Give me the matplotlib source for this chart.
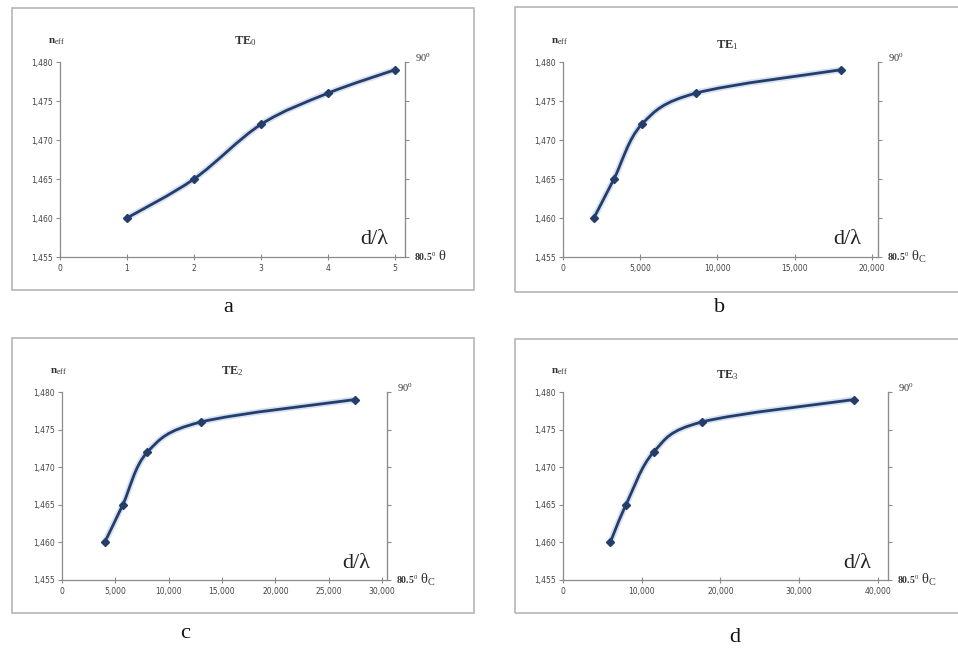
import numpy as np
import matplotlib
matplotlib.use("Agg")
import matplotlib.pyplot as plt
from matplotlib.path import Path
from matplotlib.patches import PathPatch, Rectangle
from matplotlib.ticker import FuncFormatter

# n_eff values, same for all four modes
N_EFF = [1.460, 1.465, 1.472, 1.476, 1.479]

# d/lambda for each mode
X_TE0 = [1, 2, 3, 4, 5]
X_TE1 = [2000, 3300, 5100, 8600, 18000]
X_TE2 = [4000, 5700, 8000, 13000, 27500]
X_TE3 = [6000, 8000, 11500, 17600, 37000]

TITLES = ["0", "1", "2", "3"]
LETTERS = ["a", "b", "c", "d"]
THETA = ["θ", "θ$_{\\rm C}$", "θ$_{\\rm C}$", "θ$_{\\rm C}$"]

W, H = 958, 651
LINE = "#243d6b"
GRID = "#8c8c8c"
SERIF = "Liberation Serif"

plt.rcParams["mathtext.fontset"] = "custom"
plt.rcParams["mathtext.rm"] = SERIF
plt.rcParams["mathtext.it"] = SERIF + ":italic"
plt.rcParams["mathtext.bf"] = SERIF + ":bold"


def px(x0, y0, x1, y1):
    # pixel box (top-left origin) -> figure fraction rect
    return [x0 / W, (H - y1) / H, (x1 - x0) / W, (y1 - y0) / H]


def smooth_path(ax, xs, ys):
    # Excel-like smoothed line: Catmull-Rom turned into cubic Beziers,
    # computed in normalised axis units so the curve shape is right
    x0, x1 = ax.get_xlim()
    y0, y1 = ax.get_ylim()
    pts = np.column_stack([(np.array(xs) - x0) / (x1 - x0),
                           (np.array(ys) - y0) / (y1 - y0)])
    ext = np.vstack([pts[0], pts, pts[-1]])
    verts = [pts[0]]
    codes = [Path.MOVETO]
    for i in range(1, len(ext) - 2):
        p0, p1, p2, p3 = ext[i - 1], ext[i], ext[i + 1], ext[i + 2]
        c1 = p1 + (p2 - p0) / 6
        c2 = p2 - (p3 - p1) / 6
        verts += [c1, c2, p2]
        codes += [Path.CURVE4] * 3
    verts = np.array(verts)
    verts[:, 0] = verts[:, 0] * (x1 - x0) + x0
    verts[:, 1] = verts[:, 1] * (y1 - y0) + y0
    return Path(verts, codes)


def comma_fmt(dec):
    def f(v, pos):
        if dec == 3:
            return ("%.3f" % v).replace(".", ",")
        if v == 0:
            return "0"
        return "{:,.0f}".format(v) if v >= 1000 else "%d" % v
    return FuncFormatter(f)


fig = plt.figure(figsize=(W / 100, H / 100), dpi=100)
fig.patch.set_facecolor("white")

panels = [
    # data, axes pixel box, xmax, xtick step, frame box, letter pos
    (X_TE0, (60, 62, 405, 257), 5.15, 1, (12, 8, 474, 290), (228, 308)),
    (X_TE1, (563, 62, 878, 257), 20408, 5000, (515, 7, 970, 292), (720, 308)),
    (X_TE2, (62, 392, 387, 580), 30469, 5000, (12, 338, 474, 613), (185, 633)),
    (X_TE3, (563, 392, 888, 580), 41270, 10000, (515, 339, 970, 613), (735, 637)),
]

for k, (xs, box, xmax, step, frame, lpos) in enumerate(panels):
    fx0, fy0, fx1, fy1 = frame
    fig.patches.append(Rectangle((fx0 / W, (H - fy1) / H), (fx1 - fx0) / W,
                                 (fy1 - fy0) / H, transform=fig.transFigure,
                                 fill=False, edgecolor="#b5b5b5", lw=1.2))

    ax = fig.add_axes(px(*box))
    ax.set_xlim(0, xmax)
    ax.set_ylim(1.455, 1.480)
    ax.set_yticks(np.arange(1.455, 1.4801, 0.005))
    ax.set_xticks(np.arange(0, xmax - 1e-9, step))
    ax.yaxis.set_major_formatter(comma_fmt(3))
    ax.xaxis.set_major_formatter(comma_fmt(0))
    ax.spines["top"].set_visible(False)
    for s in ["left", "bottom", "right"]:
        ax.spines[s].set_color(GRID)
        ax.spines[s].set_linewidth(0.9)
    ax.tick_params(axis="y", direction="out", length=3, color=GRID,
                   labelsize=5.5, labelcolor="#444444", pad=2)
    ax.tick_params(axis="x", direction="inout", length=4, color=GRID,
                   labelsize=5.5, labelcolor="#444444", pad=3)

    ax2 = ax.twinx()
    ax2.set_ylim(ax.get_ylim())
    ax2.set_yticks(ax.get_yticks())
    ax2.set_yticklabels([])
    ax2.tick_params(axis="y", direction="out", length=3, color=GRID)
    for s in ["top", "left", "bottom"]:
        ax2.spines[s].set_visible(False)
    ax2.spines["right"].set_color(GRID)

    path = smooth_path(ax, xs, N_EFF)
    ax.add_patch(PathPatch(path, fill=False, edgecolor="#b9cde8", lw=4.5,
                           alpha=0.6, zorder=2))
    ax.add_patch(PathPatch(path, fill=False, edgecolor=LINE, lw=2.0, zorder=3))
    ax.plot(xs, N_EFF, "D", color=LINE, ms=4, zorder=4)

    # labels in pixel space
    bx0, by0, bx1, by1 = box

    def ftext(x, y, s, **kw):
        fig.text(x / W, 1 - y / H, s, **kw)

    ftext(bx0 - 4, by0 - 20, r"n$_{\rm eff}$", ha="center", va="center",
          fontsize=8, family=SERIF, weight="bold", color="#333333")
    tx = {0: 245, 1: 727, 2: 232, 3: 727}[k]
    ty = by0 - 21 if k in (0, 2) else by0 - 17
    ftext(tx, ty, "TE$_{%s}$" % TITLES[k], ha="center", va="center",
          fontsize=9, family=SERIF, weight="bold", color="#333333")
    ftext(bx1 + 10, by0 - 4, r"90$^0$", ha="left", va="center",
          fontsize=7.5, family=SERIF, color="#333333")
    ftext(bx1 + 9, by1, "80.5$^0$", ha="left", va="center",
          fontsize=7, family=SERIF, weight="bold", color="#333333")
    ftext(bx1 + 33, by1, THETA[k], ha="left", va="center",
          fontsize=10.5, family=SERIF, color="#333333")
    ftext(bx1 - 31, by1 - 17, "d/λ", ha="center", va="center",
          fontsize=16, family=SERIF, color="#222222")
    ftext(lpos[0], lpos[1], LETTERS[k], ha="center", va="center",
          fontsize=16, family=SERIF, color="#111111")

fig.savefig("out.png", dpi=100)
